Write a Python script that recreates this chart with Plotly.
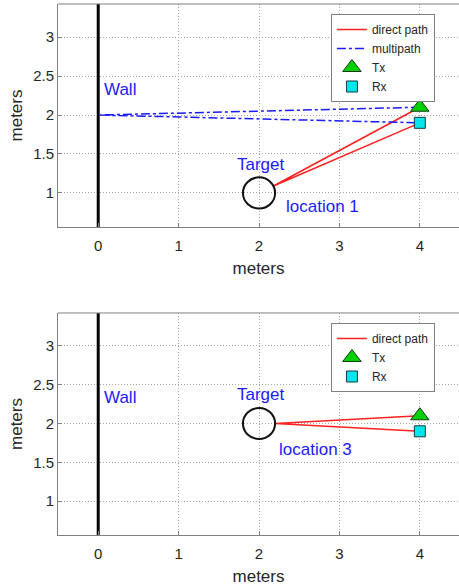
import numpy as np
import plotly.graph_objects as go

# Scene geometry (meters)
wall_x = 0.0
tx_pos = [4.0, 2.1]
rx_pos = [4.0, 1.9]
wall_bounce = [0.0, 2.0]          # reflection point on the wall
target_radius = 0.2
target_centers = {"location 1": [2.0, 1.0], "location 3": [2.0, 2.0]}
show_multipath = {"location 1": True, "location 3": False}

x_ticks = [0, 1, 2, 3, 4]
y_ticks = [1, 1.5, 2, 2.5, 3]
x_range = [-0.5, 4.487]
y_range = [0.563, 3.425]

FONT = "Liberation Sans, Arial, Helvetica, sans-serif"
BLUE_TXT = "#1a1aff"
RED = "#ff2020"
MP_BLUE = "#1a1aff"

panels = [
    ("location 1", "x", "y", "legend", [0.6126, 0.9932]),
    ("location 3", "x2", "y2", "legend2", [0.0870, 0.4659]),
]

fig = go.Figure()
shapes = []
annotations = []

for name, xr, yr, leg, ydom in panels:
    cx, cy = target_centers[name]
    # point on the target circle facing the Tx/Rx pair
    mid = np.array([(tx_pos[0] + rx_pos[0]) / 2, (tx_pos[1] + rx_pos[1]) / 2])
    d = mid - np.array([cx, cy])
    start = np.array([cx, cy]) + target_radius * d / np.linalg.norm(d)

    # wall
    fig.add_trace(go.Scatter(x=[wall_x, wall_x], y=y_range, mode="lines",
                             line=dict(color="black", width=3),
                             xaxis=xr, yaxis=yr, showlegend=False, hoverinfo="skip"))
    # direct path: target -> Tx and target -> Rx
    fig.add_trace(go.Scatter(x=[tx_pos[0], start[0], rx_pos[0]],
                             y=[tx_pos[1], start[1], rx_pos[1]],
                             mode="lines", line=dict(color=RED, width=1.5),
                             name="direct path", xaxis=xr, yaxis=yr, legend=leg))
    if show_multipath[name]:
        fig.add_trace(go.Scatter(x=[tx_pos[0], wall_bounce[0], rx_pos[0]],
                                 y=[tx_pos[1], wall_bounce[1], rx_pos[1]],
                                 mode="lines",
                                 line=dict(color=MP_BLUE, width=1.5, dash="dashdot"),
                                 name="multipath", xaxis=xr, yaxis=yr, legend=leg))
    fig.add_trace(go.Scatter(x=[tx_pos[0]], y=[tx_pos[1]], mode="markers",
                             marker=dict(symbol="triangle-up", size=16, color="#00d000",
                                         line=dict(color="#1a3a1a", width=1)),
                             name="Tx", xaxis=xr, yaxis=yr, legend=leg))
    fig.add_trace(go.Scatter(x=[rx_pos[0]], y=[rx_pos[1]], mode="markers",
                             marker=dict(symbol="square", size=11, color="#00e5ee",
                                         line=dict(color="#1a3a3a", width=1)),
                             name="Rx", xaxis=xr, yaxis=yr, legend=leg))

    # target circle
    shapes.append(dict(type="circle", xref=xr, yref=yr,
                       x0=cx - target_radius, x1=cx + target_radius,
                       y0=cy - target_radius, y1=cy + target_radius,
                       line=dict(color="#111111", width=2)))
    # top border of the axes box
    shapes.append(dict(type="line", xref=f"{xr} domain", yref=f"{yr} domain",
                       x0=0, x1=1, y0=1, y1=1, line=dict(color="#808080", width=1)))

    annotations += [
        dict(x=0.05, y=2.33, xref=xr, yref=yr, text="Wall", showarrow=False,
             xanchor="left", font=dict(family=FONT, size=17, color=BLUE_TXT)),
        dict(x=cx + 0.03, y=cy + 0.37, xref=xr, yref=yr, text="Target", showarrow=False,
             xanchor="center", font=dict(family=FONT, size=17, color=BLUE_TXT)),
        dict(x=cx + (0.31 if name == "location 1" else 0.22), y=cy - (0.17 if name == "location 1" else 0.34),
             xref=xr, yref=yr, text=name, showarrow=False,
             xanchor="left", font=dict(family=FONT, size=17, color=BLUE_TXT)),
    ]

axis_common = dict(showgrid=True, gridcolor="#a8a8a8", griddash="1px,2px", gridwidth=1,
                   zeroline=False, showline=True, linecolor="#808080", linewidth=1,
                   ticks="inside", ticklen=4, tickcolor="#808080",
                   tickfont=dict(family=FONT, size=15, color="#262626"))

title_font = dict(family=FONT, size=17, color="#262626")

layout = dict(
    width=459, height=586,
    margin=dict(l=0, r=0, t=0, b=0),
    paper_bgcolor="white", plot_bgcolor="white",
    shapes=shapes, annotations=annotations,
)
for i, (name, xr, yr, leg, ydom) in enumerate(panels):
    sfx = "" if i == 0 else "2"
    layout[f"xaxis{sfx}"] = dict(axis_common, domain=[0.1264, 1.0], range=x_range,
                                 tickvals=x_ticks, anchor=yr, ticklabelstandoff=5,
                                 title=dict(text="meters", font=title_font, standoff=9))
    layout[f"yaxis{sfx}"] = dict(axis_common, domain=ydom, range=y_range,
                                 tickvals=y_ticks, ticktext=[f"{v:g}" for v in y_ticks],
                                 anchor=xr,
                                 title=dict(text="meters", font=title_font, standoff=6))
    layout[leg] = dict(x=0.721, y=1 - (14 if i == 0 else 323) / 586,
                       xanchor="left", yanchor="top",
                       bgcolor="white", bordercolor="#808080", borderwidth=1,
                       font=dict(family=FONT, size=12, color="#262626"),
                       tracegroupgap=0, itemwidth=30)

fig.update_layout(**layout)
fig.write_html("out.html")
